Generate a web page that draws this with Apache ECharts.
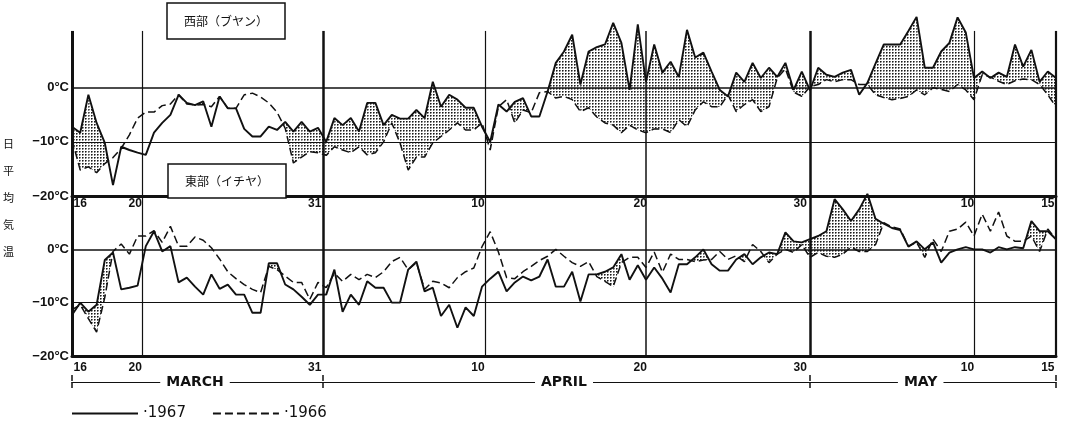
<!DOCTYPE html>
<html><head><meta charset="utf-8">
<script src="https://cdn.jsdelivr.net/npm/echarts@6/dist/echarts.min.js"></script>
<style>html,body{margin:0;padding:0;background:#fff}#c{width:1068px;height:422px}</style>
</head><body><div id="c"></div>
<script>
// Half-day steps from 16 March (index 0) to 15 May (index 120)
const west1967 = [-7.2,-8.3,-1.3,-6.5,-10.2,-18,-10.9,-11.5,-12,-12.4,-8.3,-6.5,-5,-1.3,-2.8,-3.2,-2.5,-7.2,-1.6,-3.8,
 -3.8,-7.6,-9,-9,-7.2,-7.8,-6.3,-8.1,-6.3,-8.1,-7.4,-10,-5.6,-6.9,-5.6,-8.1,-2.8,-2.8,-6.9,-5,
 -5.7,-5.7,-4.1,-5.6,1.1,-3.5,-1.3,-2.2,-3.7,-3.7,-7.2,-10,-3.1,-4.4,-2.6,-1.9,-5.3,-5.3,-0.7,4.6,
 6.7,9.8,0.6,6.7,7.5,8,12,8.3,-0.4,11.7,1.1,8,2.8,4.8,2,10.7,5.6,6.5,3,-0.4,
 -1.6,2.8,1.1,4.6,1.8,3.7,2,4.6,-0.4,3,-0.5,3.7,2.4,2,2.8,3.3,-1.3,0.9,4.5,8,
 8,8,10.5,13.1,3.7,3.7,6.7,8.3,13,10.2,1.8,3,1.8,2.8,2,8,3.9,7,1.1,3,1.8];
const west1966 = [-9.6,-15.2,-14.6,-15.7,-14,-12.9,-11.2,-8.7,-5.6,-4.5,-4.5,-3.3,-3,-1.3,-3,-3.2,-3.1,-3.5,-1.6,-3.8,
 -3.8,-1.3,-1,-1.7,-2.8,-4.5,-7.5,-13.9,-12.8,-11.8,-12,-12.5,-10.9,-11.5,-12,-10.9,-12.4,-12,-10,-6.5,
 -10.2,-15.2,-12.8,-12.8,-10.2,-9,-7.8,-6.5,-7.8,-7.8,-6.5,-11.5,-3.5,-2.2,-6.5,-4.1,-4.6,-0.9,-0.7,-1.9,
 -1.6,-2.2,-4.4,-3.7,-5.4,-6.5,-6.9,-8.3,-6.9,-7.8,-8.3,-7.6,-7.6,-8.3,-5.9,-7.2,-4.1,-2.6,-3.5,-3.5,
 -1.3,-4.4,-3.1,-2.2,-4.4,-3.5,1.8,3.5,-0.8,-1.6,0.2,0.6,1.5,1.1,1.5,1.5,0.6,0.6,-1.3,-1.8,
 -2.2,-2,-1.6,-0.4,-1.3,0,-0.3,-0.7,0.6,-0.4,-2.2,2.4,2,1.2,0.6,1.3,1.6,1.5,0.6,-1.3,-3.5];
const east1967 = [-12.3,-10,-11.7,-10.4,-2,-0.6,-7.5,-7.2,-6.8,0.6,3.4,-0.4,0.6,-6.2,-5.3,-7,-8.5,-4.7,-7.4,-6.6,
 -8.5,-8.5,-11.9,-11.9,-2.6,-2.6,-6.6,-7.5,-8.9,-10.4,-8.5,-8.5,-3.8,-11.7,-8.5,-10.4,-6,-7.2,-7.2,-10,
 -10,-3.8,-2.3,-7.9,-7.2,-12.5,-10.4,-14.7,-10.9,-12.5,-7,-5.5,-4.2,-7.9,-6.2,-5.1,-5.8,-5.1,-1.9,-7,
 -7,-4.2,-9.8,-4.7,-4.7,-4.2,-3.4,-0.9,-5.7,-3,-5.7,-3.4,-5.5,-8.1,-2.8,-2.8,-1.5,0,-2.8,-4,
 -4,-1.9,-0.9,-2.8,-1.5,-0.6,-0.9,3.2,1.5,1.3,1.9,2.5,3.4,9.4,7.5,5.3,7.5,10.4,5.7,4.8,
 4,3.6,0.5,1.5,0,1.3,-2.5,-0.6,0,0.4,0,0,-0.6,0.4,0,0.4,0.2,5.3,3.4,3.4,1.9];
const east1966 = [-11.3,-10.4,-13,-15.5,-9,-0.4,1,-0.9,2.5,2.5,3.5,1.3,4.3,0.6,0.6,2.3,1.7,0.3,-1.8,-4.2,
 -5.5,-6.6,-7.5,-8.1,-3.2,-3.8,-5,-6.2,-6.2,-9.4,-6.2,-7.2,-4.5,-6,-4.7,-5.7,-4.7,-5.3,-4.2,-2.3,
 -1.5,-3.8,-2.5,-7.5,-6,-6.3,-7.2,-5.3,-4.2,-3.5,0.5,3.3,-0.5,-5.3,-5.5,-4.2,-3.2,-2.1,-1.3,0,
 -1.3,-2.5,-3.2,-2.3,-5.1,-6,-7,-2.5,-1.5,-1.5,-3.4,-0.5,-4.3,-0.9,-1.9,-1.9,-2.3,-2,-1.9,-0.4,
 -1.9,-1.2,-2.3,0.9,-0.4,-2.5,-0.9,0,-0.6,0.9,-1.5,-0.6,-1.3,-1.5,-0.9,0.4,-0.4,-0.4,0.9,5,
 4.2,3.8,0.6,1.3,-1.5,1.9,-0.4,3.4,3.8,5.1,2.5,6.6,3.4,7,2.5,1.5,1.5,2.5,-0.4,3.8,1.9];
const dayLabels = ['16','20','31','10','20','30','10','15'];
const months = ['MARCH','APRIL','MAY'];
const yearNames = ['1967','1966'];
const panelTitles = ['西部（ブヤン）','東部（イチヤ）'];
const yTitle = '日平均気温';

// layout (styling only)
const linePos = [0, 8.6, 30.6, 50.4, 70, 90, 110, 120];
const lineW   = [3, 1.2, 2.5, 1.2, 1.5, 2.5, 1.2, 2.2];
const labelPos = [1, 7.7, 29.6, 49.5, 69.3, 88.8, 109.2, 119];
const monthPos = [15, 60, 103.5];

const pc = document.createElement('canvas'); pc.width = 3; pc.height = 3;
const pg = pc.getContext('2d');
pg.fillStyle = '#1a1a1a'; pg.fillRect(1,1,1,1);
pg.fillStyle = 'rgba(0,0,0,0.55)'; pg.fillRect(2,1,1,1); pg.fillRect(1,2,1,1);
pg.fillStyle = 'rgba(0,0,0,0.2)'; pg.fillRect(2,2,1,1);
const dots = {image: pc, repeat: 'repeat'};

function band(a, b) {
  return function (params, api) {
    const k = api.value(0);
    const a0 = a[k], a1 = a[k+1], b0 = b[k], b1 = b[k+1];
    const d0 = a0 - b0, d1 = a1 - b1;
    let pts;
    if (d0 <= 0 && d1 <= 0) return null;
    if (d0 >= 0 && d1 >= 0) pts = [[k,a0],[k+1,a1],[k+1,b1],[k,b0]];
    else {
      const t = d0 / (d0 - d1), xc = k + t, yc = b0 + t * (b1 - b0);
      pts = d0 > 0 ? [[k,a0],[xc,yc],[k,b0]] : [[xc,yc],[k+1,a1],[k+1,b1]];
    }
    return {type:'polygon', shape:{points: pts.map(p => api.coord(p))}, style:{fill: dots}};
  };
}

function frame(top) {
  const d = [{yAxis:0, lineStyle:{width:1.5}}, {yAxis:-10, lineStyle:{width:1.2}}];
  linePos.forEach((x, i) => d.push([{coord:[x,-20], lineStyle:{width:lineW[i]}}, {coord:[x, top]}]));
  return {silent:true, symbol:['none','none'], label:{show:false},
          lineStyle:{color:'#111', type:'solid'}, emphasis:{disabled:true}, data:d};
}

const font = 'Liberation Sans';
function xAx(g, margin) {
  return {type:'value', gridIndex:g, min:0, max:120,
    axisLine:{show:true, onZero:false, lineStyle:{color:'#111', width:3}}, axisTick:{show:false}, splitLine:{show:false},
    axisLabel:{customValues:labelPos, formatter: v => dayLabels[labelPos.indexOf(v)] || '',
      color:'#111', fontFamily:font, fontWeight:'bold', fontSize:12, margin:margin}};
}
function yAx(g, max) {
  return {type:'value', gridIndex:g, min:-20, max:max, interval:10,
    axisLine:{show:false}, axisTick:{show:false}, splitLine:{show:false},
    axisLabel:{formatter: v => v === 0 ? '0°C' : (v === -10 ? '−10°C' : (v === -20 ? '−20°C' : '')),
      color:'#111', fontFamily:font, fontWeight:'bold', fontSize:13, margin:3}};
}
function pairData(arr) { return arr.map((v, i) => [i, v]); }
function lines(g, a, b, top) {
  return [
    {type:'custom', xAxisIndex:g, yAxisIndex:g, z:1, silent:true,
      data: a.slice(0, -1).map((v, k) => [k, v, b[k]]), encode:{x:0, y:[1,2]},
      renderItem: band(a, b)},
    {type:'line', name:yearNames[0], xAxisIndex:g, yAxisIndex:g, data:pairData(a), symbol:'none', clip:false,
      itemStyle:{color:'#111'}, lineStyle:{color:'#111', width:1.9}, z:3, markLine: frame(top)},
    {type:'line', name:yearNames[1], xAxisIndex:g, yAxisIndex:g, data:pairData(b), symbol:'none', clip:false,
      itemStyle:{color:'#111'}, lineStyle:{color:'#111', width:1.5, type:[8,4]}, z:3}
  ];
}

const chart = echarts.init(document.getElementById('c'), null, {renderer:'canvas'});
chart.setOption({
  backgroundColor:'#fff', animation:false,
  title:[
    {text:panelTitles[0], left:167, top:3, padding:[12,17], borderColor:'#111', borderWidth:1.5, backgroundColor:'#fff',
      textStyle:{fontFamily:'Noto Sans CJK JP', fontSize:12, fontWeight:'normal', color:'#111'}},
    {text:panelTitles[1], left:168, top:164, padding:[11,17], borderColor:'#111', borderWidth:1.5, backgroundColor:'#fff',
      textStyle:{fontFamily:'Noto Sans CJK JP', fontSize:12, fontWeight:'normal', color:'#111'}},
    {text:yTitle.split('').join('\n'), left:3, top:130, padding:0,
      textStyle:{fontFamily:'Noto Sans CJK JP', fontSize:11, lineHeight:27, fontWeight:'normal', color:'#111'}}
  ],
  legend:{left:66, top:401, itemWidth:66, itemHeight:12, itemGap:26, data:yearNames,
    itemStyle:{opacity:0}, formatter: n => '·' + n,
    textStyle:{fontFamily:'DejaVu Sans', fontSize:15, color:'#111'}},
  grid:[
    {left:72, right:12, top:12, height:184},
    {left:72, right:12, top:196, height:160},
    {left:72, right:12, top:381, height:1}
  ],
  xAxis:[
    xAx(0, 2), xAx(1, 6),
    {type:'value', gridIndex:2, min:0, max:120, position:'bottom',
      axisLine:{show:true, onZero:false, lineStyle:{color:'#111', width:1.2}}, splitLine:{show:false},
      axisTick:{show:true, customValues:[0, 30.6, 90, 120], length:6, lineStyle:{color:'#111', width:1.5}},
      axisLabel:{customValues:monthPos, formatter: v => months[monthPos.indexOf(v)] || '', margin:0,
        verticalAlign:'middle', backgroundColor:'#fff', padding:[0,6],
        color:'#111', fontFamily:'DejaVu Sans', fontWeight:'bold', fontSize:14}},
    {type:'value', gridIndex:2, min:0, max:120, position:'top',
      axisLine:{show:false, onZero:false}, splitLine:{show:false}, axisLabel:{show:false},
      axisTick:{show:true, customValues:[0, 30.6, 90, 120], length:6, lineStyle:{color:'#111', width:1.5}}}
  ],
  yAxis:[ yAx(0, 14), yAx(1, 10), {type:'value', gridIndex:2, min:0, max:1, show:false} ],
  series:[].concat(lines(0, west1967, west1966, 10.5), lines(1, east1967, east1966, 10))
});
</script></body></html>
